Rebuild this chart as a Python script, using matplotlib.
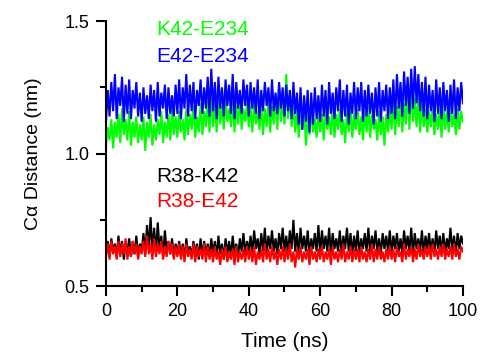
import numpy as np
import matplotlib
matplotlib.use('Agg')
import matplotlib.pyplot as plt
from matplotlib.ticker import MultipleLocator

plt.rcParams['font.family'] = ['Liberation Sans', 'DejaVu Sans']

# sampling grid (ns), one value every 0.5 ns
time = np.linspace(0, 100, 201)

# E42-E234 (blue)
e42_e234 = [
    1.12, 1.24, 1.14, 1.27, 1.16, 1.30, 1.13, 1.25, 1.18, 1.29, 1.12, 1.26, 1.15, 1.28, 1.13, 1.24, 1.17, 1.27, 1.14, 1.23,
    1.12, 1.25, 1.15, 1.22, 1.13, 1.26, 1.16, 1.24, 1.12, 1.27, 1.14, 1.23, 1.17, 1.26, 1.13, 1.25, 1.15, 1.22, 1.14, 1.26,
    1.15, 1.28, 1.13, 1.25, 1.17, 1.30, 1.14, 1.26, 1.16, 1.27, 1.13, 1.24, 1.18, 1.28, 1.15, 1.25, 1.17, 1.29, 1.14, 1.32,
    1.16, 1.27, 1.13, 1.29, 1.17, 1.25, 1.14, 1.28, 1.18, 1.26, 1.15, 1.30, 1.13, 1.27, 1.17, 1.24, 1.15, 1.28, 1.18, 1.26,
    1.14, 1.27, 1.17, 1.25, 1.15, 1.28, 1.13, 1.24, 1.16, 1.27, 1.18, 1.25, 1.14, 1.28, 1.16, 1.23, 1.15, 1.27, 1.17, 1.25,
    1.14, 1.26, 1.16, 1.24, 1.13, 1.27, 1.15, 1.23, 1.11, 1.25, 1.09, 1.22, 1.12, 1.24, 1.08, 1.23, 1.11, 1.25, 1.13, 1.22,
    1.12, 1.26, 1.14, 1.24, 1.11, 1.27, 1.15, 1.23, 1.13, 1.25, 1.16, 1.28, 1.12, 1.24, 1.14, 1.26, 1.11, 1.23, 1.15, 1.27,
    1.13, 1.25, 1.16, 1.27, 1.12, 1.24, 1.14, 1.26, 1.15, 1.23, 1.11, 1.25, 1.14, 1.27, 1.12, 1.24, 1.16, 1.26, 1.13, 1.25,
    1.15, 1.28, 1.13, 1.30, 1.17, 1.27, 1.14, 1.31, 1.18, 1.29, 1.15, 1.32, 1.17, 1.33, 1.19, 1.30, 1.16, 1.27, 1.14, 1.29,
    1.13, 1.26, 1.16, 1.24, 1.12, 1.28, 1.15, 1.25, 1.13, 1.27, 1.16, 1.24, 1.12, 1.26, 1.15, 1.28, 1.13, 1.25, 1.16, 1.27,
    1.19,
]

# K42-E234 (green)
k42_e234 = [
    1.03, 1.10, 1.05, 1.13, 1.02, 1.12, 1.06, 1.15, 1.04, 1.17, 1.07, 1.13, 1.05, 1.16, 1.03, 1.12, 1.06, 1.14, 1.04, 1.11,
    1.05, 1.14, 1.01, 1.12, 1.06, 1.15, 1.03, 1.11, 1.05, 1.13, 1.07, 1.16, 1.04, 1.12, 1.06, 1.15, 1.05, 1.17, 1.07, 1.14,
    1.06, 1.16, 1.08, 1.13, 1.05, 1.17, 1.07, 1.15, 1.09, 1.18, 1.06, 1.14, 1.08, 1.19, 1.07, 1.16, 1.10, 1.20, 1.08, 1.22,
    1.10, 1.19, 1.08, 1.22, 1.11, 1.18, 1.09, 1.21, 1.12, 1.17, 1.10, 1.20, 1.08, 1.18, 1.11, 1.21, 1.09, 1.17, 1.12, 1.19,
    1.10, 1.18, 1.08, 1.20, 1.11, 1.16, 1.09, 1.19, 1.07, 1.17, 1.10, 1.21, 1.08, 1.18, 1.11, 1.22, 1.09, 1.25, 1.12, 1.20,
    1.11, 1.30, 1.13, 1.22, 1.10, 1.19, 1.08, 1.17, 1.06, 1.15, 1.09, 1.18, 1.03, 1.14, 1.07, 1.16, 1.08, 1.13, 1.06, 1.17,
    1.08, 1.15, 1.05, 1.17, 1.09, 1.14, 1.07, 1.18, 1.06, 1.15, 1.09, 1.17, 1.07, 1.13, 1.04, 1.16, 1.08, 1.18, 1.06, 1.15,
    1.09, 1.17, 1.07, 1.14, 1.05, 1.16, 1.08, 1.18, 1.06, 1.15, 1.09, 1.13, 1.05, 1.16, 1.07, 1.14, 1.03, 1.15, 1.08, 1.17,
    1.09, 1.20, 1.07, 1.18, 1.10, 1.22, 1.08, 1.19, 1.11, 1.24, 1.09, 1.25, 1.12, 1.21, 1.10, 1.23, 1.08, 1.19, 1.10, 1.17,
    1.08, 1.16, 1.10, 1.18, 1.07, 1.15, 1.09, 1.17, 1.06, 1.19, 1.09, 1.16, 1.08, 1.18, 1.10, 1.15, 1.07, 1.17, 1.09, 1.16,
    1.12,
]

# R38-K42 (black)
r38_k42 = [
    0.62, 0.67, 0.61, 0.68, 0.63, 0.66, 0.61, 0.69, 0.62, 0.67, 0.60, 0.66, 0.63, 0.68, 0.61, 0.67, 0.62, 0.69, 0.61, 0.66,
    0.63, 0.70, 0.62, 0.73, 0.64, 0.76, 0.63, 0.72, 0.62, 0.74, 0.64, 0.69, 0.61, 0.71, 0.63, 0.67, 0.62, 0.68, 0.61, 0.66,
    0.62, 0.67, 0.61, 0.66, 0.60, 0.68, 0.62, 0.65, 0.61, 0.67, 0.62, 0.66, 0.60, 0.68, 0.61, 0.67, 0.62, 0.66, 0.61, 0.68,
    0.62, 0.67, 0.61, 0.69, 0.62, 0.66, 0.60, 0.68, 0.62, 0.67, 0.61, 0.69, 0.62, 0.66, 0.61, 0.68, 0.63, 0.70, 0.62, 0.67,
    0.63, 0.69, 0.62, 0.71, 0.64, 0.68, 0.62, 0.70, 0.63, 0.72, 0.62, 0.69, 0.64, 0.71, 0.63, 0.68, 0.62, 0.70, 0.64, 0.72,
    0.63, 0.69, 0.62, 0.71, 0.64, 0.75, 0.63, 0.70, 0.62, 0.72, 0.64, 0.69, 0.63, 0.71, 0.62, 0.68, 0.64, 0.70, 0.63, 0.73,
    0.62, 0.71, 0.64, 0.69, 0.63, 0.72, 0.62, 0.70, 0.64, 0.68, 0.63, 0.71, 0.62, 0.69, 0.64, 0.72, 0.63, 0.70, 0.62, 0.69,
    0.63, 0.71, 0.62, 0.68, 0.64, 0.70, 0.63, 0.72, 0.62, 0.69, 0.64, 0.71, 0.63, 0.68, 0.62, 0.70, 0.64, 0.69, 0.63, 0.71,
    0.62, 0.69, 0.64, 0.70, 0.63, 0.68, 0.62, 0.71, 0.64, 0.69, 0.63, 0.72, 0.62, 0.70, 0.64, 0.68, 0.63, 0.71, 0.62, 0.69,
    0.64, 0.70, 0.63, 0.68, 0.62, 0.71, 0.64, 0.69, 0.63, 0.70, 0.62, 0.68, 0.64, 0.72, 0.63, 0.69, 0.62, 0.70, 0.64, 0.69,
    0.66,
]

# R38-E42 (red)
r38_e42 = [
    0.61, 0.66, 0.60, 0.67, 0.62, 0.65, 0.60, 0.67, 0.61, 0.66, 0.62, 0.68, 0.60, 0.65, 0.61, 0.67, 0.62, 0.66, 0.60, 0.65,
    0.62, 0.67, 0.61, 0.69, 0.62, 0.66, 0.60, 0.68, 0.61, 0.66, 0.62, 0.67, 0.60, 0.65, 0.61, 0.67, 0.62, 0.66, 0.60, 0.65,
    0.61, 0.66, 0.60, 0.65, 0.59, 0.66, 0.61, 0.64, 0.60, 0.66, 0.59, 0.65, 0.61, 0.64, 0.60, 0.66, 0.59, 0.65, 0.60, 0.64,
    0.59, 0.65, 0.60, 0.63, 0.58, 0.64, 0.60, 0.65, 0.59, 0.63, 0.60, 0.64, 0.58, 0.65, 0.59, 0.63, 0.60, 0.64, 0.59, 0.65,
    0.60, 0.64, 0.59, 0.65, 0.58, 0.63, 0.60, 0.64, 0.59, 0.66, 0.60, 0.64, 0.59, 0.65, 0.60, 0.63, 0.58, 0.64, 0.60, 0.65,
    0.59, 0.64, 0.60, 0.66, 0.59, 0.63, 0.57, 0.64, 0.60, 0.65, 0.59, 0.63, 0.60, 0.64, 0.58, 0.65, 0.60, 0.63, 0.59, 0.64,
    0.60, 0.65, 0.59, 0.63, 0.60, 0.64, 0.58, 0.65, 0.60, 0.63, 0.59, 0.64, 0.60, 0.66, 0.59, 0.63, 0.60, 0.65, 0.59, 0.64,
    0.60, 0.64, 0.59, 0.65, 0.60, 0.63, 0.59, 0.64, 0.60, 0.66, 0.59, 0.64, 0.60, 0.65, 0.60, 0.63, 0.59, 0.64, 0.60, 0.65,
    0.60, 0.64, 0.59, 0.65, 0.61, 0.63, 0.59, 0.66, 0.60, 0.64, 0.61, 0.65, 0.59, 0.64, 0.60, 0.66, 0.61, 0.64, 0.60, 0.65,
    0.61, 0.65, 0.60, 0.66, 0.61, 0.64, 0.60, 0.65, 0.61, 0.66, 0.60, 0.64, 0.61, 0.65, 0.60, 0.66, 0.61, 0.64, 0.60, 0.65,
    0.63,
]

series = [
    ('K42-E234', k42_e234, '#00ff00', 1.468),
    ('E42-E234', e42_e234, '#0000ff', 1.368),
    ('R38-K42', r38_k42, '#000000', 0.913),
    ('R38-E42', r38_e42, '#ff0000', 0.818),
]

fig = plt.figure(figsize=(4.92, 3.58), dpi=100)
ax = fig.add_axes([0.2154, 0.201, 0.7256, 0.740])

for name, vals, color, ylab in series:
    ax.plot(time, vals, color=color, lw=1.5, solid_joinstyle='miter')
    ax.text(14, ylab, name, color=color, fontsize=15, ha='left', va='center')

ax.set_xlim(0, 100)
ax.set_ylim(0.5, 1.5)
ax.xaxis.set_major_locator(MultipleLocator(20))
ax.xaxis.set_minor_locator(MultipleLocator(10))
ax.yaxis.set_minor_locator(MultipleLocator(0.25))
ax.set_yticks([0.5, 1.0, 1.5])
ax.set_yticklabels(['0.5', '1.0', '1.5'])

for side in ('top', 'right'):
    ax.spines[side].set_visible(False)
for side in ('left', 'bottom'):
    ax.spines[side].set_linewidth(1.5)

ax.tick_params(which='major', direction='out', length=7, width=1.5, labelsize=13, pad=5)
ax.tick_params(which='minor', direction='out', length=4, width=1.5)

ax.set_xlabel('Time (ns)', fontsize=15, labelpad=9)
ax.set_ylabel('C\u03b1 Distance (nm)', fontsize=14, labelpad=16)

fig.savefig('out.png', dpi=100)
